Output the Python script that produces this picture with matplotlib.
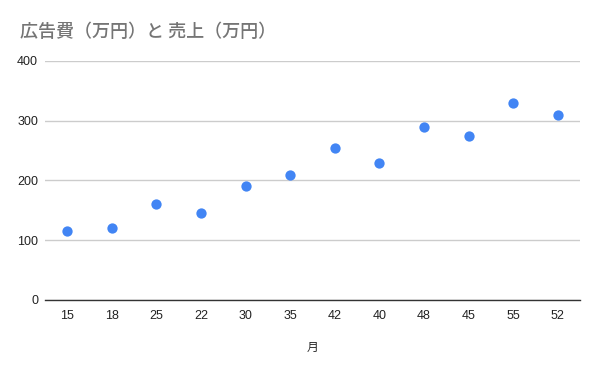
import matplotlib.pyplot as plt

plt.rcParams['font.family'] = ['Liberation Sans', 'Noto Sans CJK JP', 'DejaVu Sans']

months = ['15', '18', '25', '22', '30', '35', '42', '40', '48', '45', '55', '52']
sales = [115, 120, 160, 145, 190, 210, 255, 230, 290, 275, 330, 310]
yticks = [0, 100, 200, 300, 400]

fig = plt.figure(figsize=(6, 3.71), dpi=100)
ax = fig.add_axes([0.075, 0.1914, 0.8917, 0.6442])

x = list(range(len(months)))
ax.scatter(x, sales, s=55, color='#4285F4', zorder=3, clip_on=False, linewidths=0)

ax.set_xlim(-0.5, len(months) - 0.5)
ax.set_ylim(0, 400)
ax.set_xticks(x)
ax.set_xticklabels(months)
ax.set_yticks(yticks)
ax.set_yticklabels([str(v) for v in yticks])
ax.tick_params(length=0, labelsize=9, colors='#222222', pad=7)
ax.tick_params(axis='y', pad=5)

ax.grid(axis='y', color='#cccccc', linewidth=1)
ax.set_axisbelow(True)
for s in ['top', 'right', 'left']:
    ax.spines[s].set_visible(False)
ax.spines['bottom'].set_color('#333333')
ax.spines['bottom'].set_linewidth(1)

ax.set_xlabel('月', fontsize=8.5, color='#222222', labelpad=14,
              family=['Noto Sans CJK JP', 'DejaVu Sans'])
fig.text(20/600, 1 - 32/371, '広告費（万円）と 売上（万円）', fontsize=13, color='#757575',
         va='center', ha='left', weight='medium',
         family=['Noto Sans CJK JP', 'DejaVu Sans'])

fig.savefig('out.png', dpi=100)
